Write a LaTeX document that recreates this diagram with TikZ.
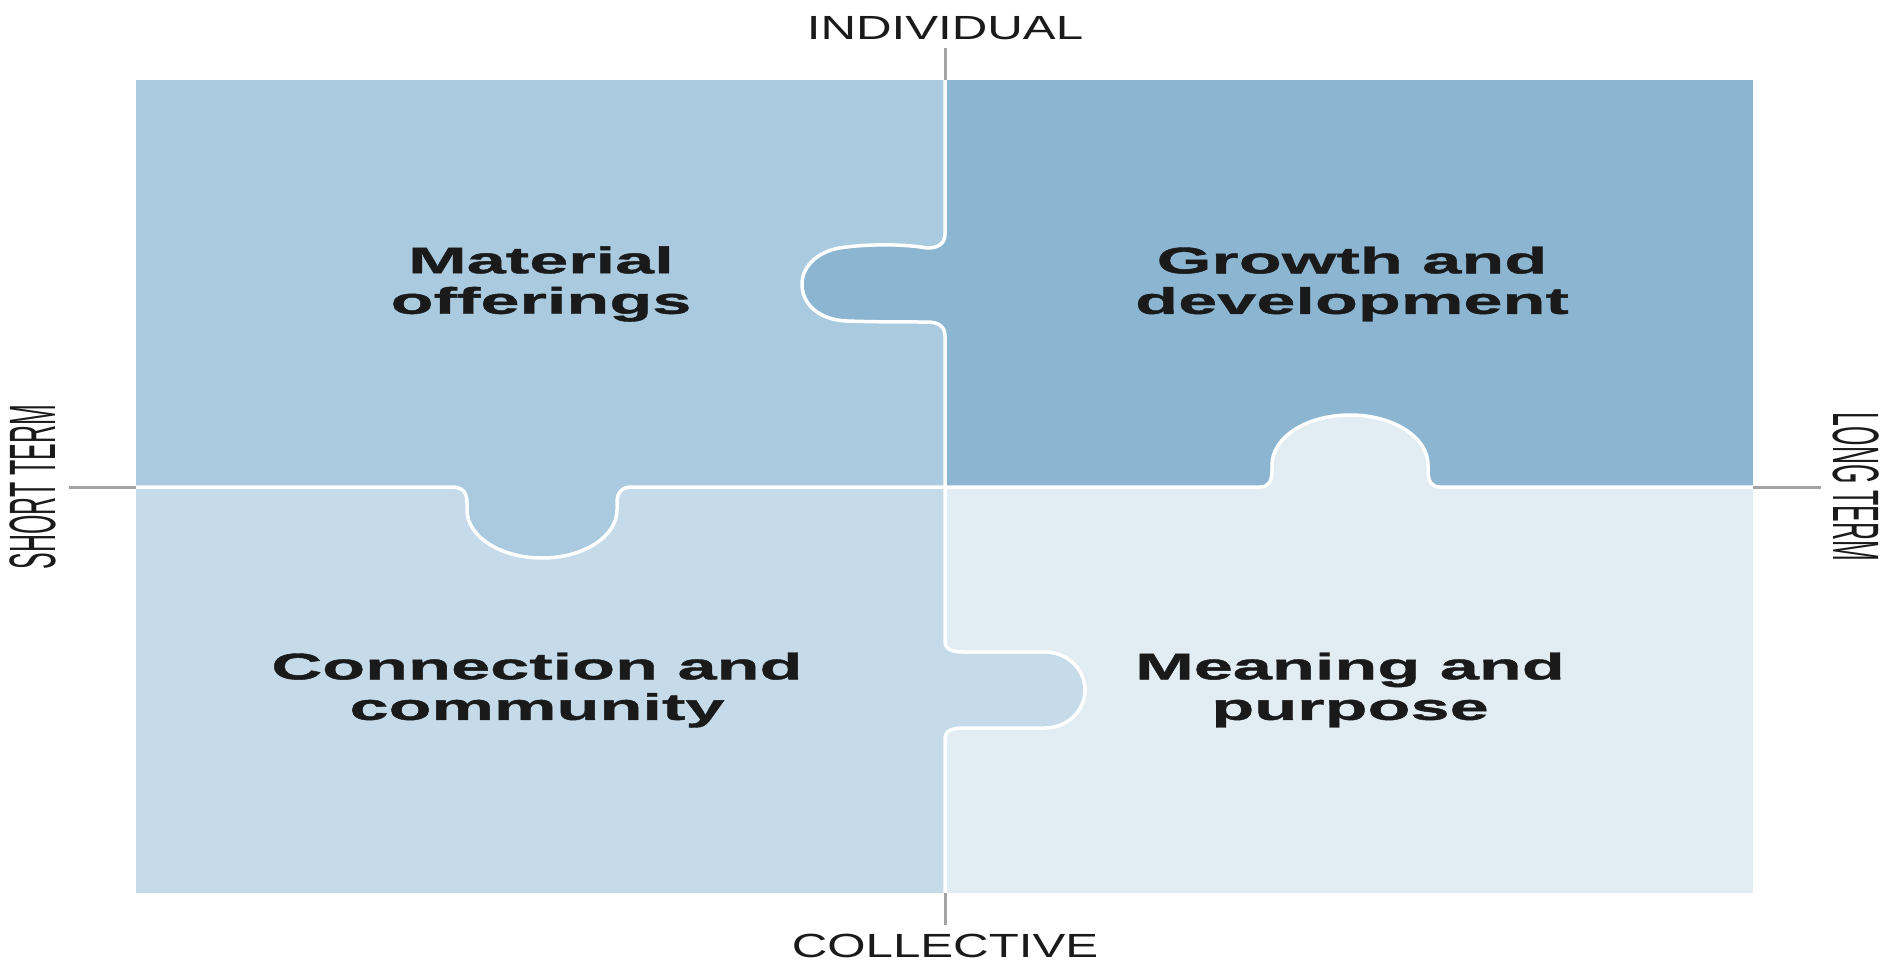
\documentclass[tikz,border=0pt]{standalone}
\usepackage{fontspec}
\setmainfont{Liberation Sans}
\newfontfamily\piecefont[FakeStretch=1.9,FakeBold=1.2]{Liberation Sans}
\newfontfamily\axisfont[FakeStretch=1.47]{Liberation Sans}
\newfontfamily\sidefont[FakeStretch=0.38]{Liberation Sans}
\definecolor{tlblue}{HTML}{A9CADF}
\definecolor{trblue}{HTML}{8BB5D1}
\definecolor{blblue}{HTML}{C5DBEA}
\definecolor{brblue}{HTML}{E2ECF3}
\definecolor{inkdark}{HTML}{1A1A1A}
\definecolor{tickgray}{HTML}{A3A3A3}
\begin{document}
\begin{tikzpicture}[x=1pt,y=-1pt,
	piece/.style={font=\piecefont\bfseries\fontsize{37}{40.5}\selectfont,align=center,inner sep=0pt,text=inkdark},
	axis/.style={font=\axisfont\fontsize{33.5}{36}\selectfont,text=inkdark},
	side/.style={font=\sidefont\fontsize{65.6}{70}\selectfont,text=inkdark},
	seam/.style={white,line width=3.5pt},
	tick/.style={tickgray,line width=3pt}]
		\useasboundingbox (0,0) rectangle (1886,963);
		% the four pieces
		\fill[tlblue] (136,80) rectangle (945,487);
		\fill[trblue] (945,80) rectangle (1753,487);
		\fill[blblue] (136,487) rectangle (945,893);
		\fill[brblue] (945,487) rectangle (1753,893);
		% knobs
		\fill[trblue] (945,234) .. controls (945,244) and (938,248) .. (927,248) .. controls (905,244) and (870,244) .. (847,247) .. controls (820,249) and (802,265) .. (802,284) .. controls (802,305) and (820,320) .. (847,321) .. controls (875,322) and (905,322) .. (927,322) .. controls (938,322) and (945,326) .. (945,336) -- cycle;
		\fill[blblue] (945,641) .. controls (945,649) and (951,652) .. (964,652) -- (1045,652) .. controls (1067,652) and (1085,669) .. (1085,690) .. controls (1085,711) and (1067,728) .. (1045,728) -- (964,728) .. controls (951,728) and (945,731) .. (945,739) -- cycle;
		\fill[brblue] (1260,487) .. controls (1269,487) and (1272,481) .. (1272,470) -- (1272,465) .. controls (1272,437) and (1307,415) .. (1350,415) .. controls (1393,415) and (1428,437) .. (1428,465) -- (1428,470) .. controls (1428,481) and (1431,487) .. (1440,487) -- cycle;
		\fill[tlblue] (452,487) .. controls (463,487) and (467,493) .. (467,503) -- (467,510) .. controls (467,536.5) and (500.6,558) .. (542,558) .. controls (583.4,558) and (617,536.5) .. (617,510) -- (617,503) .. controls (617,493) and (621,487) .. (632,487) -- cycle;
		% seams
		\draw[seam] (945,80) -- (945,234) .. controls (945,244) and (938,248) .. (927,248) .. controls (905,244) and (870,244) .. (847,247) .. controls (820,249) and (802,265) .. (802,284) .. controls (802,305) and (820,320) .. (847,321) .. controls (875,322) and (905,322) .. (927,322) .. controls (938,322) and (945,326) .. (945,336) -- (945,641) .. controls (945,649) and (951,652) .. (964,652) -- (1045,652) .. controls (1067,652) and (1085,669) .. (1085,690) .. controls (1085,711) and (1067,728) .. (1045,728) -- (964,728) .. controls (951,728) and (945,731) .. (945,739) -- (945,893);
		\draw[seam] (136,487) -- (452,487) .. controls (463,487) and (467,493) .. (467,503) -- (467,510) .. controls (467,536.5) and (500.6,558) .. (542,558) .. controls (583.4,558) and (617,536.5) .. (617,510) -- (617,503) .. controls (617,493) and (621,487) .. (632,487) -- (1260,487) .. controls (1269,487) and (1272,481) .. (1272,470) -- (1272,465) .. controls (1272,437) and (1307,415) .. (1350,415) .. controls (1393,415) and (1428,437) .. (1428,465) -- (1428,470) .. controls (1428,481) and (1431,487) .. (1440,487) -- (1753,487);
		% labels
		\node[piece] (mat) at (541,284) {Material\\offerings};
		\node[piece] (grow) at (1352,284) {Growth and\\development};
		\node[piece] (conn) at (537,690) {Connection and\\community};
		\node[piece] (mean) at (1350,690) {Meaning and\\purpose};
		\node[axis,anchor=base,inner sep=7pt] (ind) at (945,40) {INDIVIDUAL};
		\node[axis,anchor=base,inner sep=8pt] (coll) at (945,957) {COLLECTIVE};
		\node[side,rotate=90,anchor=base,inner sep=13pt] (short) at (55,487) {SHORT TERM};
		\node[side,rotate=-90,anchor=base,inner sep=11pt] (long) at (1833,487) {LONG TERM};
		\coordinate (top) at (945,80);
		\coordinate (bot) at (945,893);
		\coordinate (lft) at (136,487);
		\coordinate (rgt) at (1753,487);
		\draw[tick] (ind.south) -- (top);
		\draw[tick] (coll.north) -- (bot);
		\draw[tick] (short.south) -- (lft);
		\draw[tick] (long.south) -- (rgt);
\end{tikzpicture}
\end{document}
